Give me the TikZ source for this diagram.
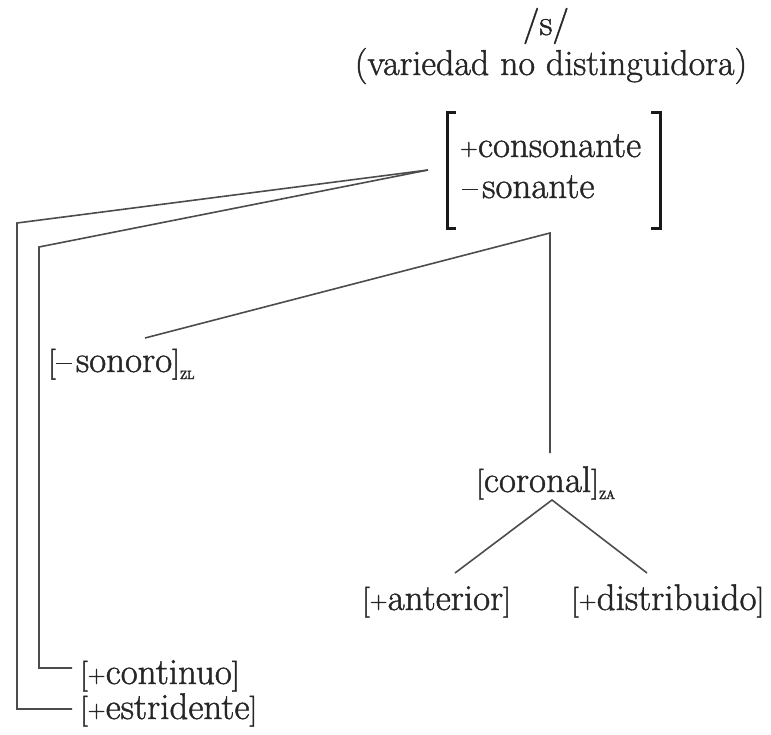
\documentclass[tikz,border=0pt]{standalone}
\usepackage{tikz}
\newcommand\plsign{\raisebox{1.5pt}{\fontsize{24}{24}\selectfont+}\hspace{0.5pt}}
\newcommand\mnsign{\rule[8pt]{16pt}{1.3pt}\hspace{4pt}}
\newcommand\subsc[1]{\raisebox{-7pt}{\fontsize{12}{12}\selectfont #1}}
\newcommand\heavytext{\special{pdf:code 2 Tr 0.45 w}}
\newcommand\lbr{{\fontsize{31}{31}\selectfont[}}
\newcommand\rbr{{\fontsize{31}{31}\selectfont]}}
\begin{document}
\begin{tikzpicture}[x=1pt,y=-1pt,
  lbl/.style={inner sep=0pt,anchor=base west,text=black!85,font=\fontsize{37}{42}\selectfont\heavytext},
  ttl/.style={inner sep=0pt,anchor=base,text=black!85,font=\fontsize{36}{40}\selectfont\heavytext},
  conn/.style={draw=black!70,line width=1.6pt,line join=miter},
  brk/.style={draw=black!90,line width=3pt}]
\useasboundingbox (0,0) rectangle (771,734);
% titles
\node[ttl] (sl) at (546,35) {/s/};
\node[ttl] (var) at (551,75) {(variedad no distinguidora)};
% matrix
\node[lbl] (cons) at (460,157) {\plsign consonante};
\node[lbl] (son) at (462,198) {\mnsign sonante};
\draw[brk] (456,112) -- (447,112) -- (447,228) -- (456,228);
\draw[brk] (651,112) -- (660,112) -- (660,228) -- (651,228);
% features
\node[lbl] (sonoro) at (48,372) {\lbr\mnsign sonoro\rbr\subsc{ZL}};
\node[lbl] (coronal) at (476,492) {\lbr coronal\rbr\subsc{ZA}};
\node[lbl] (ant) at (362,610) {\lbr\plsign anterior\rbr};
\node[lbl] (dist) at (571,610) {\lbr\plsign distribuido\rbr};
\node[lbl] (cont) at (80,684) {\lbr\plsign continuo\rbr};
\node[lbl] (estr) at (80,719) {\lbr\plsign estridente\rbr};
% junction coordinates
\coordinate (root) at (428,170);
\coordinate (hub) at (550,233);
\coordinate (a1) at (17,223);
\coordinate (a2) at (17,709);
\coordinate (a3) at (72,709);
\coordinate (b1) at (39,247);
\coordinate (b2) at (39,668);
\coordinate (b3) at (72,668);
\coordinate (sonT) at (145,338);
\coordinate (corT) at (550,453);
\coordinate (corB) at (552,500);
\coordinate (antT) at (455,573);
\coordinate (distT) at (647,573);
% connectors
\draw[conn] (root) -- (a1) -- (a2) -- (a3);
\draw[conn] (root) -- (b1) -- (b2) -- (b3);
\draw[conn] (sonT) -- (hub) -- (corT);
\draw[conn] (antT) -- (corB) -- (distT);
\end{tikzpicture}
\end{document}
